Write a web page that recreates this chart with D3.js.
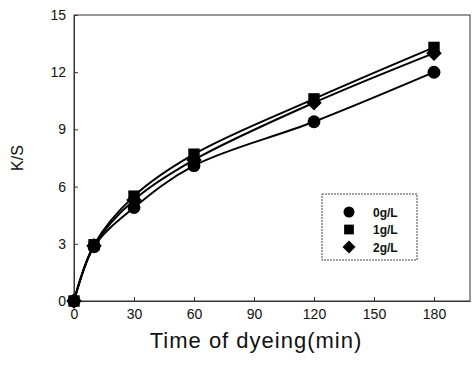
<!DOCTYPE html>
<html><head><meta charset="utf-8">
<script src="https://cdn.jsdelivr.net/npm/d3@7"></script>
<style>body{margin:0;background:#fff}svg{display:block}text{font-family:Arial,"Liberation Sans",sans-serif;fill:#111}</style>
</head><body><svg id="c" width="473" height="367"></svg>
<script>
const times = [0, 10, 30, 60, 120, 180];
const series0 = [0, 2.85, 4.9, 7.1, 9.4, 12.0];
const series1 = [0, 2.95, 5.5, 7.7, 10.6, 13.3];
const series2 = [0, 2.9, 5.3, 7.4, 10.4, 13.0];
const seriesNames = ["0g/L", "1g/L", "2g/L"];
const xTicks = [0, 30, 60, 90, 120, 150, 180];
const yTicks = [0, 3, 6, 9, 12, 15];

const svg = d3.select("#c");
const L = 74, R = 470, T = 15, B = 301;
const x = d3.scaleLinear().domain([0, 198]).range([L, R]);
const y = d3.scaleLinear().domain([0, 15]).range([B, T]);

svg.append("rect").attr("x", L).attr("y", T).attr("width", R - L).attr("height", B - T)
  .attr("fill", "none").attr("stroke", "#333").attr("stroke-width", 1);

const gx = svg.append("g").attr("transform", `translate(0,${B})`)
  .call(d3.axisBottom(x).tickValues(xTicks).tickSizeInner(-4).tickSizeOuter(0).tickPadding(8));
const gy = svg.append("g").attr("transform", `translate(${L},0)`)
  .call(d3.axisLeft(y).tickValues(yTicks).tickSizeInner(-4).tickSizeOuter(0).tickPadding(8));
[gx, gy].forEach(g => {
  g.select(".domain").attr("stroke", "#333");
  g.selectAll(".tick line").attr("stroke", "#333");
  g.selectAll(".tick text").attr("font-size", 14).attr("fill", "#111");
});

svg.append("text").attr("x", 256).attr("y", 348).attr("text-anchor", "middle")
  .attr("font-size", 22).attr("letter-spacing", 1).text("Time of dyeing(min)");
svg.append("text").attr("transform", "translate(23,158) rotate(-90)").attr("text-anchor", "middle")
  .attr("font-size", 16).text("K/S");

const allSeries = [series0, series1, series2];
const shapes = [d3.symbolCircle, d3.symbolSquare, d3.symbolSquare];
const rot = [0, 0, 45];
const sizes = [130, 130, 120];
const line = d3.line().x((d, i) => x(times[i])).y(d => y(d)).curve(d3.curveCatmullRom.alpha(0.5));

allSeries.forEach((s, k) => {
  svg.append("path").datum(s).attr("d", line).attr("fill", "none")
    .attr("stroke", "#000").attr("stroke-width", 2);
});
allSeries.forEach((s, k) => {
  svg.append("g").selectAll("path").data(s).join("path")
    .attr("transform", (d, i) => `translate(${x(times[i])},${y(d)}) rotate(${rot[k]})`)
    .attr("d", d3.symbol().type(shapes[k]).size(sizes[k])).attr("fill", "#000");
});

const lg = svg.append("g");
lg.append("rect").attr("x", 322).attr("y", 194).attr("width", 95).attr("height", 66)
  .attr("fill", "#fff").attr("stroke", "#444").attr("stroke-dasharray", "2,1");
seriesNames.forEach((n, k) => {
  const yy = 212 + k * 17.5;
  lg.append("path").attr("transform", `translate(349,${yy}) rotate(${rot[k]})`)
    .attr("d", d3.symbol().type(shapes[k]).size(k === 2 ? 85 : 95)).attr("fill", "#000");
  lg.append("text").attr("x", 373).attr("y", yy + 4.5).attr("font-size", 12)
    .attr("font-weight", "bold").text(n);
});
</script></body></html>
